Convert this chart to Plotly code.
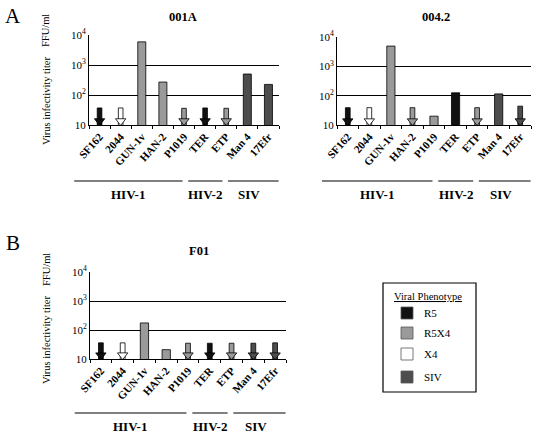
import plotly.graph_objects as go

# ---------------- data ----------------
strains = ["SF162", "2044", "GUN-1v", "HAN-2", "P1019", "TER", "ETP", "Man 4", "17Efr"]
phenotype = ["R5", "X4", "R5X4", "R5X4", "R5X4", "R5", "R5X4", "SIV", "SIV"]
panel_titles = ["001A", "004.2", "F01"]

# measured titers (FFU/ml); None = below detection (drawn as down arrow)
titer_001A = [None, None, 5900, 270, None, None, None, 500, 225]
titer_0042 = [None, None, 4900, None, 20, 125, None, 115, None]
titer_F01 = [None, None, 175, 21, None, None, None, None, None]

# height of the "below detection" arrows
limit_001A = [37, 37, 37, 37, 36, 37, 36, 37, 37]
limit_0042 = [39, 39, 39, 39, 39, 39, 39, 39, 44]
limit_F01 = [36, 36, 36, 36, 35, 35, 35, 35, 36]

groups = ["HIV-1", "HIV-2", "SIV"]
group_start = [-1.2, 4.2, 6.08]
group_end = [3.93, 5.82, 8.48]
group_label_pos = [1.35, 5.0, 7.1]

legend_names = ["R5", "R5X4", "X4", "SIV"]
colors = {"R5": "#111111", "R5X4": "#9a9a9a", "X4": "#ffffff", "SIV": "#4d4d4d"}

y_tickvals = [10, 100, 1000, 10000]
y_ticktext = ["10", "10<sup>2</sup>", "10<sup>3</sup>", "10<sup>4</sup>"]

SERIF = "Liberation Serif"
W, H = 534, 437

panels = [
    dict(vals=titer_001A, lim=limit_001A, xd=[89 / W, 279 / W], yd=[1 - 125 / H, 1 - 35 / H]),
    dict(vals=titer_0042, lim=limit_0042, xd=[337 / W, 531 / W], yd=[1 - 125 / H, 1 - 37 / H]),
    dict(vals=titer_F01, lim=limit_F01, xd=[90 / W, 286 / W], yd=[1 - 359 / H, 1 - 272 / H]),
]


def txt(text, x, y, size, xref="paper", xanchor="center", angle=0):
    return dict(text=text, x=x, y=y, xref=xref, yref="paper", showarrow=False,
                xanchor=xanchor, yanchor="middle", textangle=angle,
                font=dict(family=SERIF, size=size, color="black"))


def cat_to_paper(idx, dom):
    # category index -> paper x for a category axis spanning [-0.5, n-0.5]
    return dom[0] + (idx + 0.5) / len(strains) * (dom[1] - dom[0])


fig = go.Figure()
layout = {}
shapes = []
annotations = []

for i, p in enumerate(panels):
    n = "" if i == 0 else str(i + 1)
    xa, ya = "x" + n, "y" + n
    cols = [colors[ph] for ph in phenotype]

    # measured bars
    bx = [s for s, v in zip(strains, p["vals"]) if v is not None]
    by = [v for v in p["vals"] if v is not None]
    bc = [c for c, v in zip(cols, p["vals"]) if v is not None]
    fig.add_trace(go.Bar(x=bx, y=by, width=0.38, marker=dict(color=bc, line=dict(color="black", width=0.8)),
                         xaxis=xa, yaxis=ya, showlegend=False, hoverinfo="skip"))
    # arrows for below-detection
    ax_ = [s for s, v in zip(strains, p["vals"]) if v is None]
    ay = [l for l, v in zip(p["lim"], p["vals"]) if v is None]
    ac = [c for c, v in zip(cols, p["vals"]) if v is None]
    fig.add_trace(go.Bar(x=ax_, y=ay, width=0.22, marker=dict(color=ac, line=dict(color="black", width=0.8)),
                         xaxis=xa, yaxis=ya, showlegend=False, hoverinfo="skip"))
    fig.add_trace(go.Scatter(x=ax_, y=[13.6] * len(ax_), mode="markers",
                             marker=dict(symbol="triangle-down", size=9, color=ac,
                                         line=dict(color="black", width=0.8)),
                             xaxis=xa, yaxis=ya, showlegend=False, hoverinfo="skip", cliponaxis=False))

    layout["xaxis" + n] = dict(domain=p["xd"], anchor=ya, type="category", categoryorder="array",
                               categoryarray=strains, range=[-0.5, len(strains) - 0.5],
                               showline=True, linecolor="black", linewidth=1, ticks="outside",
                               tickson="boundaries", ticklen=3, tickcolor="black", tickangle=-48,
                               tickfont=dict(family=SERIF, size=11, color="black", weight="bold"),
                               showgrid=False, zeroline=False, fixedrange=True, automargin=False)
    layout["yaxis" + n] = dict(domain=p["yd"], anchor=xa, type="log", range=[1, 4],
                               tickvals=y_tickvals, ticktext=y_ticktext, ticks="",
                               tickfont=dict(family=SERIF, size=11, color="black"),
                               showline=True, linecolor="black", linewidth=1,
                               showgrid=True, gridcolor="black", gridwidth=1, zeroline=False,
                               fixedrange=True, automargin=False)

    # panel title
    tx = [183, 436, 199][i]
    ty = [17, 17, 251][i]
    annotations.append(txt("<b>" + panel_titles[i] + "</b>", tx / W, 1 - ty / H, 12.5))

    # group lines and labels
    line_y = 1 - [181, 181, 413][i] / H
    lab_y = 1 - [194, 194, 426][i] / H
    for g, s0, s1, lp in zip(groups, group_start, group_end, group_label_pos):
        shapes.append(dict(type="line", xref="paper", yref="paper",
                           x0=cat_to_paper(s0, p["xd"]), x1=cat_to_paper(s1, p["xd"]),
                           y0=line_y, y1=line_y, line=dict(color="black", width=1)))
        annotations.append(txt("<b>" + g + "</b>", cat_to_paper(lp, p["xd"]), lab_y, 13))

# y axis titles (panels A-left and B)
for fy, vy in [(31, 101), (270, 340)]:
    annotations.append(txt("FFU/ml", 46 / W, 1 - fy / H, 10.5, angle=-90))
    annotations.append(txt("Virus infectivity titer", 46 / W, 1 - vy / H, 10.5, angle=-90))

# panel letters
for letter, ly in [("A", 16), ("B", 243)]:
    annotations.append(txt(letter, 13 / W, 1 - ly / H, 21))

# legend box
shapes.append(dict(type="rect", xref="paper", yref="paper", x0=383 / W, x1=476 / W,
                   y0=1 - 392 / H, y1=1 - 283 / H, line=dict(color="black", width=1.2)))
annotations.append(txt("<u>Viral Phenotype</u>", 428 / W, 1 - 296 / H, 10.5))
for k, (name, ry) in enumerate(zip(legend_names, [313, 333, 354, 377])):
    shapes.append(dict(type="rect", xref="paper", yref="paper", x0=401 / W, x1=413 / W,
                       y0=1 - (ry + 6) / H, y1=1 - (ry - 6) / H,
                       fillcolor=colors[name], line=dict(color="#555555", width=0.8)))
    annotations.append(txt(name, 422 / W, 1 - ry / H, 11, xanchor="left"))

fig.update_layout(width=W, height=H, margin=dict(l=0, r=0, t=0, b=0, autoexpand=False),
                  paper_bgcolor="white", plot_bgcolor="white", barmode="overlay",
                  shapes=shapes, annotations=annotations, **layout)

fig.write_html("out.html", config={"displayModeBar": False},
               post_script="document.body.style.margin='0';document.body.style.overflow='hidden';")
